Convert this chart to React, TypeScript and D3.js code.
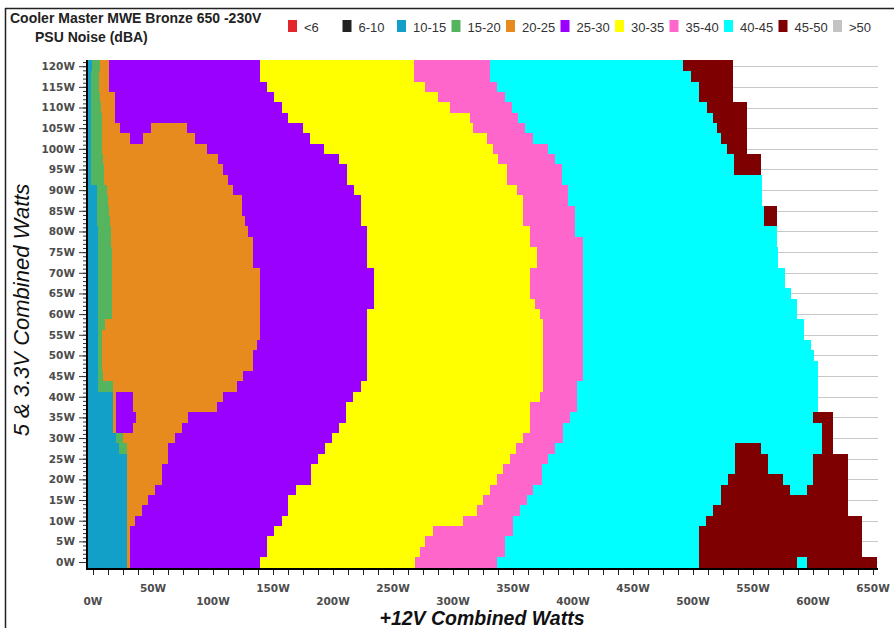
import React, { useEffect, useRef } from "react";
import * as d3 from "d3";

const WIDTH = 894;
const HEIGHT = 628;

const TITLE_LINES = ["Cooler Master MWE Bronze 650 -230V", "PSU Noise (dBA)"];
const X_TITLE = "+12V Combined Watts";
const Y_TITLE = "5 & 3.3V Combined Watts";

// Noise bands (dBA) and their colours
const LEGEND_LABELS = ["<6", "6-10", "10-15", "15-20", "20-25", "25-30", "30-35", "35-40", "40-45", "45-50", ">50"];
const BAND_COLORS = ["#e3262b", "#222222", "#12a0c9", "#55b45e", "#e78b1f", "#9900ff", "#ffff00", "#ff66cc", "#00ffff", "#7f0000", "#c3c3c3"];

// 5V & 3.3V combined load of each measured row (W)
const ROWS_W = [0, 2.5, 5, 7.5, 10, 12.5, 15, 17.5, 20, 22.5, 25, 27.5, 30, 32.5, 35, 37.5, 40, 42.5, 45, 47.5, 50, 52.5, 55, 57.5, 60, 62.5, 65, 67.5, 70, 72.5, 75, 77.5, 80, 82.5, 85, 87.5, 90, 92.5, 95, 97.5, 100, 102.5, 105, 107.5, 110, 112.5, 115, 117.5, 120];

// +12V load (W) where each noise band ends on that row, left to right
const BLUE_END = [28.1, 28.1, 28.1, 28.1, 28.1, 28.1, 28.1, 28.1, 28.1, 28.1, 28.1, 21.7, 19.2, 16.7, 16.7, 16.7, 16.7, 4.2, 4.2, 4.2, 4.2, 4.2, 4.2, 4.2, 4.2, 4.2, 3.8, 3.8, 3.8, 3.8, 3.8, 3.8, 3.8, 3.3, 3.3, 3.3, 3.3, -1.7, -1.7, -1.7, -1.7, -1.7, -1.7, -1.7, -1.7, -1.7, -1.7, -1.7, -1.1];
const GREEN_END = [28.1, 28.1, 28.1, 28.1, 28.1, 28.1, 28.1, 28.1, 28.1, 28.1, 28.1, 28.1, 25.3, 16.7, 16.7, 16.7, 16.7, 16.7, 8.3, 7.5, 7.5, 7.5, 7.5, 10, 15.6, 15.8, 15.8, 15.8, 15.8, 15.8, 15.8, 15, 15, 14.2, 13.3, 12.5, 11.7, 9.2, 9.2, 8.3, 7.5, 7.5, 7.5, 7.5, 6.7, 5.8, 5, 5, 5.8];
const ORANGE_END = [30.8, 30.8, 30.8, 30.8, 35, 40.6, 46.1, 51.7, 57.3, 57.3, 62.8, 62.8, 68.3, 73.9, 79.4, 103.1, 108.6, 119.8, 125.3, 133.6, 133.6, 136.4, 139.2, 139.2, 139.2, 139.2, 139.2, 139.2, 139.2, 133.6, 133.6, 133.6, 129.4, 126.7, 123.9, 123.9, 116.9, 112.8, 108.6, 104.4, 94.8, 85, 78.6, 18.3, 18.3, 18.3, 13.6, 13.6, 13.6];
const PURPLE_END = [139.2, 145.3, 145.3, 151.1, 157.8, 162.8, 162.8, 169.2, 181.4, 181.4, 187.3, 193.3, 198.9, 205, 210.8, 210.8, 216.9, 223.1, 228.6, 228.6, 228.6, 228.6, 228.6, 228.6, 228.6, 234.4, 234.4, 234.4, 234.4, 228.6, 228.6, 228.6, 228.6, 223.1, 223.1, 223.1, 217.5, 211.4, 211.4, 205, 192.8, 180.8, 174.8, 162.8, 157.3, 151.1, 144.8, 139.2, 139.2];
const YELLOW_END = [268.3, 272.5, 276.7, 283.3, 308.6, 319.8, 325.3, 330.8, 336.4, 341.9, 347.5, 352.5, 358.6, 364.2, 364.2, 364.2, 372.5, 375.3, 375.3, 375.3, 375.3, 375.3, 375.3, 375.3, 372.5, 368.3, 364.2, 364.2, 364.2, 370, 370, 364.2, 364.2, 358.3, 358.3, 358.3, 353.3, 345, 345, 337.5, 333.3, 328.3, 316.7, 314.2, 297.5, 287.5, 276.7, 267.8, 267.8];
const PINK_END = [336.4, 343.3, 343.3, 350.3, 350.3, 355.8, 361.4, 366.9, 373.9, 373.9, 379.4, 385, 391.4, 391.4, 397.5, 403.1, 403.1, 403.1, 408.6, 408.6, 408.6, 408.6, 408.6, 408.6, 408.6, 408.6, 408.6, 408.6, 408.6, 408.6, 408.6, 408.6, 401.7, 401.7, 401.7, 396.1, 396.1, 390.6, 390.6, 385, 379.4, 366.9, 360, 354.4, 348.9, 343.3, 336.4, 330.8, 330.8];
const CYAN_END = [505.3, 505.3, 505.3, 505.3, 510.8, 516.9, 523.3, 523.3, 528.9, 535, 535, 535, 607.3, 607.3, 600, 604.2, 604.2, 604.2, 604.2, 604.2, 600.8, 598.3, 592.5, 592.5, 586.7, 586.7, 581.7, 576.7, 576.7, 570.8, 570.8, 569.8, 569.8, 559.4, 559.4, 557.3, 557.3, 557.3, 534.4, 534.4, 528.1, 523.1, 520, 516.9, 511.4, 505, 505, 498.3, 491.9];
const MAROON_END = [653.3, 640.8, 640.8, 640.8, 640.8, 629.2, 629.2, 629.2, 629.2, 629.2, 629.2, 616.7, 616.7, 616.7, 616.7, 604.2, 604.2, 604.2, 604.2, 604.2, 600.8, 598.3, 592.5, 592.5, 586.7, 586.7, 581.7, 576.7, 576.7, 570.8, 570.8, 569.8, 569.8, 569.8, 569.8, 557.3, 557.3, 557.3, 556.7, 556.7, 544.8, 544.8, 544.8, 544.8, 544.8, 533.6, 533.6, 533.6, 533.6];

// Enclosed pockets inside a band: [row W, band index, from W, to W]
const POCKETS: [number, number, number, number][] = [
  [0, 8, 586.7, 595],
  [17.5, 8, 580.8, 594.8],
  [20, 8, 574.8, 600],
  [22.5, 8, 562.8, 600],
  [25, 8, 562.8, 600],
  [27.5, 8, 556.7, 607.3],
  [32.5, 5, 19.2, 33.1],
  [35, 5, 19.2, 35.8],
  [37.5, 5, 19.2, 33.1],
  [40, 5, 19.2, 33.1],
  [102.5, 5, 30.8, 41.4],
  [105, 5, 22.5, 48.1],
];

const Y_TICKS = [0, 5, 10, 15, 20, 25, 30, 35, 40, 45, 50, 55, 60, 65, 70, 75, 80, 85, 90, 95, 100, 105, 110, 115, 120];
const X_LABELS = [0, 50, 100, 150, 200, 250, 300, 350, 400, 450, 500, 550, 600, 650];

const PLOT = { left: 87, right: 879, top: 60, bottom: 568 };
const TICK_FONT = "'DejaVu Sans', Verdana, sans-serif";
const TEXT_FONT = "'Liberation Sans', Arial, sans-serif";

export default function App() {
  const leftMinorRef = useRef<SVGGElement>(null);
  const leftMajorRef = useRef<SVGGElement>(null);
  const bottomRef = useRef<SVGGElement>(null);

  const x = d3.scaleLinear().domain([-5, 655]).range([PLOT.left, PLOT.right]);
  const y = d3.scaleLinear().domain([-1.45, 121.5]).range([PLOT.bottom, PLOT.top]);
  const color = d3.scaleOrdinal<number, string>().domain(d3.range(BAND_COLORS.length)).range(BAND_COLORS);

  const bandEnds = [BLUE_END, GREEN_END, ORANGE_END, PURPLE_END, YELLOW_END, PINK_END, CYAN_END, MAROON_END];
  const FIRST_BAND = 2;
  const [yLo, yHi] = y.domain();

  const rowSpan = (i: number) => {
    const w = ROWS_W[i];
    const lo = i === 0 ? yLo : (ROWS_W[i - 1] + w) / 2;
    const hi = i === ROWS_W.length - 1 ? yHi : (ROWS_W[i + 1] + w) / 2;
    return [Math.round(y(hi)), Math.round(y(lo))];
  };

  type Cell = { key: string; band: number; x0: number; x1: number; top: number; bottom: number };
  const cells: Cell[] = [];
  ROWS_W.forEach((w, i) => {
    const [top, bottom] = rowSpan(i);
    let start = x.domain()[0];
    bandEnds.forEach((ends, k) => {
      const end = ends[i];
      if (end > start) {
        cells.push({ key: `r${i}b${k}`, band: FIRST_BAND + k, x0: Math.round(x(start)), x1: Math.round(x(end)), top, bottom });
      }
      start = Math.max(start, end);
    });
  });
  POCKETS.forEach(([w, band, from, to], j) => {
    const i = ROWS_W.indexOf(w);
    const [top, bottom] = rowSpan(i);
    cells.push({ key: `p${j}`, band, x0: Math.round(x(from)), x1: Math.round(x(to)), top, bottom });
  });

  useEffect(() => {
    const minor = d3.select(leftMinorRef.current!);
    minor.selectAll("*").remove();
    minor.call(
      d3.axisLeft(y).tickValues(d3.range(0, 122, 1)).tickSize(3).tickFormat(() => "")
    );
    minor.select(".domain").remove();
    minor.selectAll(".tick line").attr("stroke", "#333");

    const major = d3.select(leftMajorRef.current!);
    major.selectAll("*").remove();
    major.call(
      d3.axisLeft(y).tickValues(Y_TICKS).tickSize(7).tickPadding(4).tickFormat((d) => `${d}W`)
    );
    major.select(".domain").remove();
    major.selectAll(".tick line").attr("stroke", "#333");
    major
      .selectAll(".tick text")
      .attr("fill", "#4d4d4d")
      .attr("font-family", TICK_FONT)
      .attr("font-weight", "bold")
      .attr("font-size", 10.5);

    const bottom = d3.select(bottomRef.current!);
    bottom.selectAll("*").remove();
    bottom.call(
      d3.axisBottom(x).tickValues(d3.range(0, 651, 12.5)).tickSize(6).tickFormat(() => "")
    );
    bottom.select(".domain").remove();
    bottom.selectAll(".tick line").attr("stroke", "#222");
  }, []);

  return (
    <svg
      width={WIDTH}
      height={HEIGHT}
      viewBox={`0 0 ${WIDTH} ${HEIGHT}`}
      style={{ position: "absolute", left: 0, top: 0, background: "#ffffff" }}
    >
      <rect x={0} y={0} width={WIDTH} height={HEIGHT} fill="#ffffff" />
      {/* outer frame */}
      <line x1={5} y1={8.5} x2={WIDTH} y2={8.5} stroke="#222" strokeWidth={1.5} />
      <line x1={5.5} y1={8} x2={5.5} y2={HEIGHT} stroke="#222" strokeWidth={1.5} />

      {/* title */}
      <text x={10} y={22.5} fontFamily={TEXT_FONT} fontWeight="bold" fontSize={14} fill="#222">
        {TITLE_LINES[0]}
      </text>
      <text x={35} y={41.5} fontFamily={TEXT_FONT} fontWeight="bold" fontSize={14} fill="#222">
        {TITLE_LINES[1]}
      </text>

      {/* legend */}
      {LEGEND_LABELS.map((label, i) => {
        const lx = 288 + i * 54.5;
        return (
          <g key={label}>
            <rect x={lx} y={20} width={9} height={12} fill={color(i)} />
            <text x={lx + 16} y={32} fontFamily={TEXT_FONT} fontSize={13} fill="#333">
              {label}
            </text>
          </g>
        );
      })}

      {/* horizontal gridlines */}
      {Y_TICKS.map((t) => (
        <line
          key={`g${t}`}
          x1={PLOT.left}
          x2={878}
          y1={Math.round(y(t)) + 0.5}
          y2={Math.round(y(t)) + 0.5}
          stroke="#c8c8c8"
          strokeWidth={1}
        />
      ))}

      {/* noise map */}
      <g shapeRendering="crispEdges">
        {cells.map((c) => (
          <rect
            key={c.key}
            x={c.x0}
            y={c.top}
            width={c.x1 - c.x0}
            height={c.bottom - c.top}
            fill={color(c.band)}
          />
        ))}
      </g>

      {/* axes */}
      <g ref={leftMinorRef} transform={`translate(${PLOT.left - 1},0)`} />
      <g ref={leftMajorRef} transform={`translate(${PLOT.left - 1},0)`} />
      <g ref={bottomRef} transform={`translate(0,${PLOT.bottom + 1})`} />
      <line x1={PLOT.left} y1={PLOT.top} x2={PLOT.left} y2={PLOT.bottom + 2} stroke="#000" strokeWidth={2} />
      <line x1={PLOT.left - 1} y1={PLOT.bottom + 1} x2={878} y2={PLOT.bottom + 1} stroke="#000" strokeWidth={2} />

      {/* x tick labels, staggered on two rows */}
      {X_LABELS.map((v, i) => (
        <text
          key={`xl${v}`}
          x={x(v)}
          y={i % 2 === 0 ? 605 : 592}
          textAnchor="middle"
          fontFamily={TICK_FONT}
          fontWeight="bold"
          fontSize={10.5}
          fill="#4d4d4d"
        >
          {`${v}W`}
        </text>
      ))}

      {/* axis titles */}
      <text
        x={482}
        y={625}
        textAnchor="middle"
        fontFamily={TEXT_FONT}
        fontWeight="bold"
        fontStyle="italic"
        fontSize={19.5}
        fill="#111"
      >
        {X_TITLE}
      </text>
      <text
        transform="translate(29,310) rotate(-90)"
        textAnchor="middle"
        fontFamily={TEXT_FONT}
        fontStyle="italic"
        fontSize={22}
        fill="#111"
      >
        {Y_TITLE}
      </text>
    </svg>
  );
}
